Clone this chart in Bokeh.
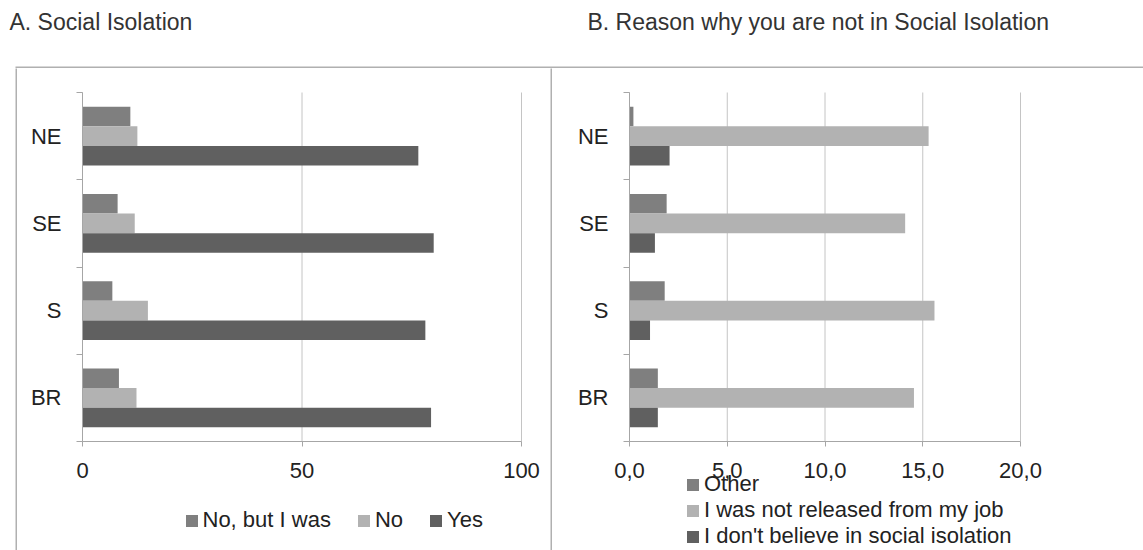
from bokeh.plotting import figure
from bokeh.models import (ColumnDataSource, FixedTicker, Legend, LegendItem, Label, Spacer,
                          Range1d, BoxAnnotation)
from bokeh.layouts import row, column
from bokeh.transform import dodge
from bokeh.embed import file_html
from bokeh.resources import INLINE

# ---------------- data ----------------
categories = ["NE", "SE", "S", "BR"]  # top to bottom

left_title = "A. Social Isolation"
left_series = ["No, but I was", "No", "Yes"]
left_no_but_i_was = [10.9, 8.0, 6.8, 8.3]
left_no = [12.5, 11.9, 14.9, 12.3]
left_yes = [76.5, 80.0, 78.1, 79.4]
left_ticks = [0, 50, 100]
left_tick_labels = ["0", "50", "100"]

right_title = "B. Reason why you are not in Social Isolation"
right_series = ["Other", "I was not released from my job", "I don't believe in social isolation"]
right_other = [0.2, 1.9, 1.8, 1.45]
right_not_released = [15.3, 14.1, 15.6, 14.55]
right_dont_believe = [2.05, 1.3, 1.05, 1.45]
right_ticks = [0, 5, 10, 15, 20]
right_tick_labels = ["0,0", "5,0", "10,0", "15,0", "20,0"]

# ---------------- style ----------------
FONT = "Liberation Sans"
BAR_COLORS = ["#7f7f7f", "#b2b2b2", "#606060"]
AXIS_COLOR = "#a6a6a6"
GRID_COLOR = "#c4c4c4"
BOX_COLOR = "#b0b0b0"
TEXT_COLOR = "#222222"
TITLE_COLOR = "#333333"
BAR_H = 0.225
HEADER_H = 68
PANEL_H = 482
PLOT_TOP = 24      # gap above the bar area inside each panel
PLOT_H = 349       # height of the bar area (down to the x axis)


def make_panel(width, plot_left, plot_w, series_names, series_values, ticks,
               tick_labels, legend_loc, orientation, spacing):
    n = len(categories)
    centers = [n - i - 0.5 for i in range(n)]
    # the frame fills the whole panel; both axes are drawn at 0 inside it
    t0, t1 = ticks[0], ticks[-1]
    ppu_x = plot_w / (t1 - t0)
    x_start = t0 - plot_left / ppu_x
    x_end = t1 + (width - plot_left - plot_w) / ppu_x
    ppu_y = PLOT_H / n
    y_end = n + PLOT_TOP / ppu_y
    y_start = y_end - PANEL_H / ppu_y
    p = figure(width=width, height=PANEL_H, title=None,
               x_range=Range1d(x_start, x_end), y_range=Range1d(y_start, y_end),
               toolbar_location=None, output_backend="svg", min_border=0)
    p.outline_line_color = None
    p.background_fill_color = "white"
    p.border_fill_color = "white"
    p.grid.visible = False

    # vertical grid lines, only over the bar area
    p.segment(x0=ticks, y0=[0] * len(ticks), x1=ticks, y1=[n] * len(ticks),
              line_color=GRID_COLOR, line_width=1, level="underlay")

    data = dict(y=centers)
    for k, vals in enumerate(series_values):
        data["s%d" % k] = vals
    src = ColumnDataSource(data)
    offsets = [BAR_H, 0.0, -BAR_H]
    items = []
    for k, name in enumerate(series_names):
        r = p.hbar(y=dodge("y", offsets[k]), left=0, right="s%d" % k, height=BAR_H,
                   source=src, fill_color=BAR_COLORS[k], line_color=None)
        items.append(LegendItem(label=name, renderers=[r]))

    # x axis drawn at y = 0
    xt = FixedTicker(ticks=ticks)
    p.xaxis.ticker = xt
    p.xaxis.fixed_location = 0
    p.xaxis.bounds = (t0, t1)
    p.xaxis.major_label_overrides = dict(zip(ticks, tick_labels))
    p.xaxis.axis_line_color = AXIS_COLOR
    p.xaxis.major_tick_line_color = AXIS_COLOR
    p.xaxis.major_tick_out = 5
    p.xaxis.major_tick_in = 0
    p.xaxis.minor_tick_out = 0
    p.xaxis.minor_tick_in = 0
    p.xaxis.major_label_standoff = 16
    p.xaxis.major_label_text_font = FONT
    p.xaxis.major_label_text_font_size = "22px"
    p.xaxis.major_label_text_color = TEXT_COLOR

    # y axis at x = 0: labels at category centres, ticks at category boundaries
    yt = FixedTicker(ticks=centers, minor_ticks=list(range(n + 1)))
    p.yaxis.ticker = yt
    p.yaxis.fixed_location = t0
    p.yaxis.bounds = (0, n)
    p.yaxis.major_label_overrides = dict(zip(centers, categories))
    p.yaxis.axis_line_color = AXIS_COLOR
    p.yaxis.major_tick_out = 0
    p.yaxis.major_tick_in = 0
    p.yaxis.minor_tick_line_color = AXIS_COLOR
    p.yaxis.minor_tick_out = 6
    p.yaxis.minor_tick_in = 0
    p.yaxis.major_label_standoff = 15
    p.yaxis.major_label_text_font = FONT
    p.yaxis.major_label_text_font_size = "22px"
    p.yaxis.major_label_text_color = TEXT_COLOR

    legend = Legend(items=items, location=legend_loc, orientation=orientation,
                    padding=0, margin=0, spacing=spacing,
                    border_line_color=None, background_fill_alpha=0,
                    label_text_font=FONT, label_text_font_size="22px",
                    label_text_color=TEXT_COLOR, glyph_width=15, glyph_height=15,
                    label_standoff=4, label_height=24)
    p.add_layout(legend)
    return p


def line_fig(w, h):
    f = figure(width=w, height=h, title=None, toolbar_location=None, output_backend="svg",
               min_border=0, x_axis_location=None, y_axis_location=None,
               x_range=Range1d(0, 1), y_range=Range1d(0, 1))
    f.grid.visible = False
    f.outline_line_color = None
    f.background_fill_color = BOX_COLOR
    f.border_fill_color = BOX_COLOR
    return f


# header with the two panel titles and the top edge of the panel boxes
header = figure(width=1143, height=HEADER_H, title=None, toolbar_location=None,
                output_backend="svg", min_border=0, x_axis_location=None, y_axis_location=None,
                x_range=Range1d(0, 1143), y_range=Range1d(0, HEADER_H))
header.grid.visible = False
header.outline_line_color = None
header.add_layout(Label(x=9, y=47, text=left_title, text_font=FONT, text_font_size="23px",
                        text_color=TITLE_COLOR, text_baseline="middle"))
header.add_layout(Label(x=587, y=47, text=right_title, text_font=FONT, text_font_size="23px",
                        text_color=TITLE_COLOR, text_baseline="middle"))
header.add_layout(BoxAnnotation(left=15, right=1143, bottom=0, top=2, fill_color=BOX_COLOR,
                                fill_alpha=1, line_color=None))

p1 = make_panel(533, 65, 439, left_series, [left_no_but_i_was, left_no, left_yes],
                left_ticks, left_tick_labels, (166.5, 17), "horizontal", 25)
p2 = make_panel(591, 77, 391, right_series, [right_other, right_not_released, right_dont_believe],
                right_ticks, right_tick_labels, (133, 1), "vertical", 0)

layout = column(
    header,
    row(Spacer(width=15, height=PANEL_H), line_fig(2, PANEL_H), p1, line_fig(2, PANEL_H), p2),
)

open("out.html", "w").write(file_html(layout, INLINE))
